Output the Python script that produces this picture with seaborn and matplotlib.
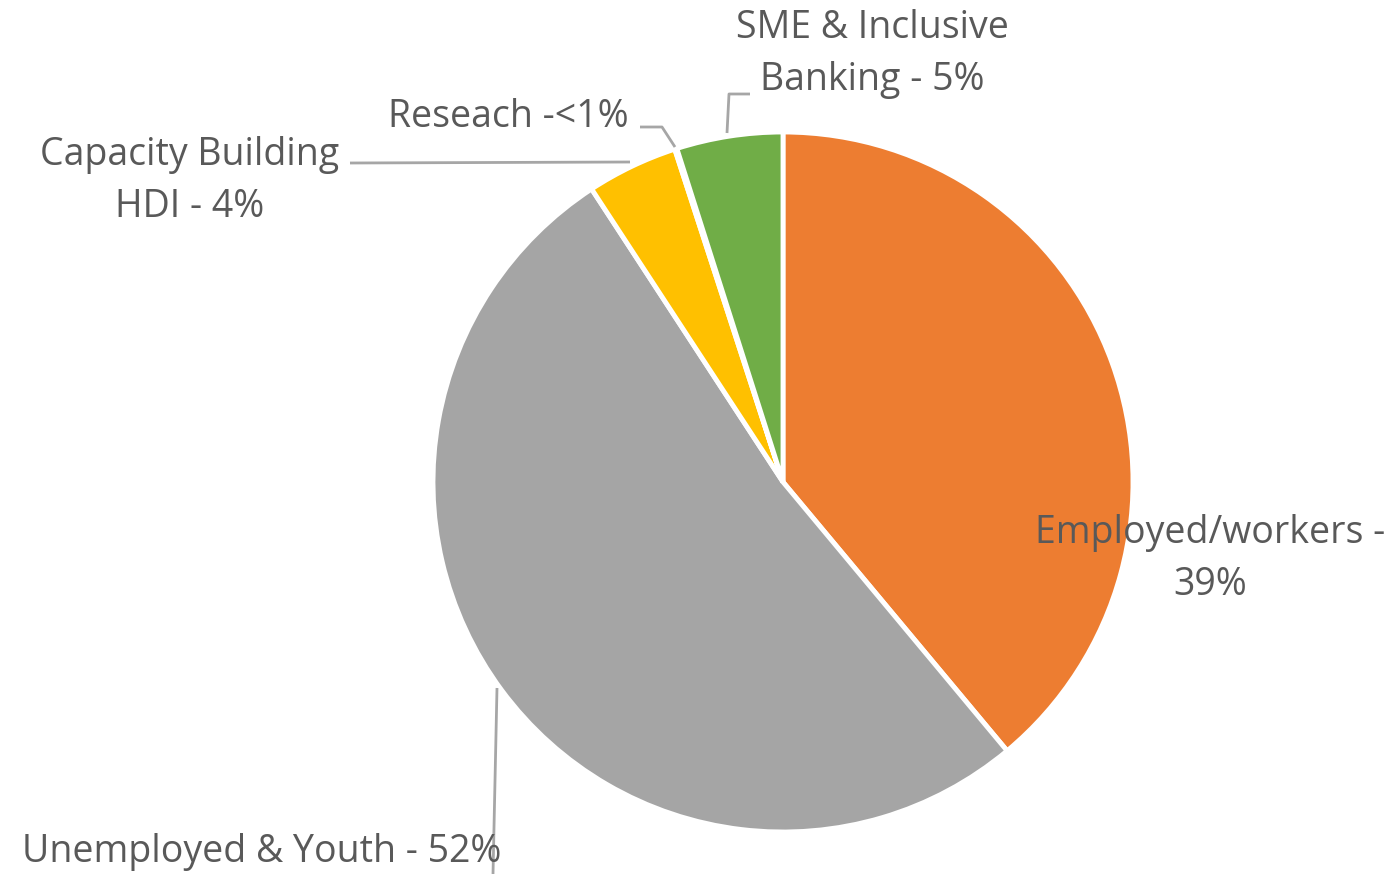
import matplotlib
matplotlib.use("Agg")
import matplotlib.pyplot as plt
import seaborn as sns

categories = ["Employed/workers", "Unemployed & Youth", "Capacity Building HDI", "Reseach", "SME & Inclusive Banking"]
values = [38.9, 51.8, 4.2, 0.1, 4.9]
labels = ["Employed/workers -\n39%", "Unemployed & Youth - 52%", "Capacity Building\nHDI - 4%",
          "Reseach -<1%", "SME & Inclusive\nBanking - 5%"]
colors = ["#ED7D31", "#A5A5A5", "#FFC000", "#4472C4", "#70AD47"]

sns.set_theme(style="white")
plt.rcParams['font.family'] = ['Open Sans', 'DejaVu Sans']

W, H = 1400, 874
fig = plt.figure(figsize=(W / 100, H / 100), dpi=100)
ax = fig.add_axes([0, 0, 1, 1])
R = 350.0
cx, cy = 783, 482

def d(px, py):
    return ((px - cx) / R, (cy - py) / R)

ax.pie(values, colors=colors, startangle=90, counterclock=False, radius=1.0,
       wedgeprops=dict(edgecolor="white", linewidth=3.5))

ax.set_xlim(-cx / R, (W - cx) / R)
ax.set_ylim(-(H - cy) / R, cy / R)
ax.set_aspect("equal")
ax.axis("off")

tc = "#595959"
lc = "#A6A6A6"
fs = 27
ls = 1.45

# label texts
ax.text(*d(872, 54), labels[4], ha="center", va="center", fontsize=fs, color=tc, linespacing=ls)
ax.text(*d(508, 117), labels[3], ha="center", va="center", fontsize=fs, color=tc)
ax.text(*d(190, 181), labels[2], ha="center", va="center", fontsize=fs, color=tc, linespacing=ls)
ax.text(*d(1210, 559), labels[0], ha="center", va="center", fontsize=fs, color=tc, linespacing=ls)
ax.text(*d(262, 852), labels[1], ha="center", va="center", fontsize=fs, color=tc)

# leader lines
def leader(pts):
    xs, ys = zip(*[d(x, y) for x, y in pts])
    ax.plot(xs, ys, color=lc, lw=2, solid_capstyle="butt")

leader([(750, 94), (729, 94), (727, 133)])
leader([(640, 127), (662, 127), (675, 147)])
leader([(350, 163), (630, 162)])
leader([(497, 688), (493, 874)])

fig.savefig("out.png", dpi=100)
